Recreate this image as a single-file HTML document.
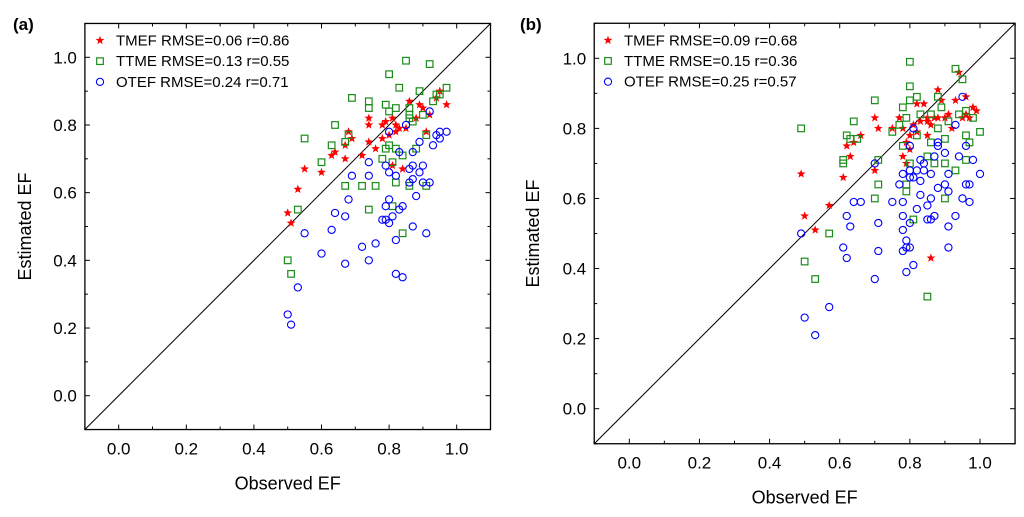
<!DOCTYPE html>
<html><head><meta charset="utf-8"><style>
html,body{margin:0;padding:0;background:#fff}
svg{display:block;font-family:"Liberation Sans",Arial,sans-serif}
</style></head><body>
<svg id="chart" width="1024" height="517" viewBox="0 0 1024 517"></svg>
<script>
const ticks=[0,0.2,0.4,0.6,0.8,1.0];
const tickLabels=["0.0","0.2","0.4","0.6","0.8","1.0"];
const legendA=["TMEF RMSE=0.06 r=0.86","TTME RMSE=0.13 r=0.55","OTEF RMSE=0.24 r=0.71"];
const legendB=["TMEF RMSE=0.09 r=0.68","TTME RMSE=0.15 r=0.36","OTEF RMSE=0.25 r=0.57"];
const aTMEF=[[0.50,0.54],[0.51,0.51],[0.53,0.61],[0.55,0.67],[0.60,0.66],[0.63,0.71],[0.64,0.72],[0.67,0.74],[0.67,0.70],[0.68,0.78],[0.69,0.76],[0.72,0.71],[0.74,0.80],[0.74,0.82],[0.74,0.75],[0.76,0.73],[0.78,0.76],[0.78,0.80],[0.79,0.81],[0.80,0.77],[0.81,0.68],[0.82,0.78],[0.82,0.80],[0.83,0.79],[0.84,0.67],[0.86,0.87],[0.88,0.82],[0.89,0.86],[0.90,0.85],[0.91,0.78],[0.92,0.83],[0.94,0.88],[0.95,0.90],[0.97,0.86],[0.81,0.82],[0.85,0.79]];
const aTTME=[[0.50,0.40],[0.51,0.36],[0.53,0.55],[0.55,0.76],[0.60,0.69],[0.63,0.74],[0.64,0.80],[0.67,0.75],[0.68,0.77],[0.67,0.62],[0.69,0.88],[0.72,0.62],[0.74,0.87],[0.74,0.85],[0.74,0.55],[0.76,0.62],[0.78,0.70],[0.79,0.86],[0.79,0.73],[0.80,0.74],[0.80,0.84],[0.80,0.95],[0.81,0.56],[0.81,0.69],[0.82,0.85],[0.82,0.73],[0.82,0.63],[0.83,0.91],[0.84,0.71],[0.84,0.48],[0.85,0.99],[0.86,0.82],[0.86,0.83],[0.86,0.85],[0.86,0.62],[0.87,0.81],[0.88,0.73],[0.89,0.90],[0.90,0.83],[0.91,0.62],[0.91,0.77],[0.92,0.98],[0.93,0.87],[0.94,0.89],[0.95,0.89],[0.97,0.91]];
const aOTEF=[[0.50,0.24],[0.51,0.21],[0.53,0.32],[0.55,0.48],[0.60,0.42],[0.63,0.49],[0.64,0.54],[0.67,0.53],[0.67,0.39],[0.68,0.58],[0.69,0.65],[0.72,0.44],[0.74,0.69],[0.74,0.65],[0.74,0.40],[0.76,0.45],[0.78,0.52],[0.79,0.52],[0.79,0.68],[0.79,0.56],[0.80,0.58],[0.80,0.78],[0.80,0.66],[0.80,0.51],[0.81,0.53],[0.82,0.65],[0.82,0.36],[0.82,0.46],[0.83,0.55],[0.83,0.72],[0.84,0.35],[0.84,0.56],[0.85,0.80],[0.86,0.67],[0.86,0.63],[0.87,0.72],[0.87,0.68],[0.87,0.50],[0.87,0.64],[0.88,0.59],[0.89,0.75],[0.89,0.66],[0.90,0.63],[0.90,0.68],[0.91,0.48],[0.92,0.63],[0.92,0.84],[0.93,0.74],[0.94,0.77],[0.95,0.76],[0.95,0.78],[0.97,0.78]];
const bTMEF=[[0.49,0.67],[0.50,0.55],[0.53,0.51],[0.57,0.58],[0.61,0.66],[0.62,0.75],[0.63,0.72],[0.64,0.76],[0.66,0.78],[0.70,0.83],[0.70,0.68],[0.71,0.80],[0.75,0.80],[0.77,0.83],[0.78,0.80],[0.78,0.72],[0.79,0.70],[0.79,0.76],[0.80,0.74],[0.80,0.78],[0.81,0.81],[0.82,0.87],[0.82,0.79],[0.83,0.82],[0.84,0.87],[0.85,0.83],[0.85,0.78],[0.86,0.81],[0.86,0.43],[0.87,0.83],[0.88,0.91],[0.88,0.83],[0.89,0.88],[0.90,0.83],[0.91,0.84],[0.92,0.80],[0.93,0.88],[0.94,0.96],[0.95,0.83],[0.96,0.89],[0.96,0.84],[0.97,0.83],[0.98,0.86],[0.99,0.85],[0.85,0.82]];
const bTTME=[[0.49,0.80],[0.50,0.42],[0.53,0.37],[0.57,0.50],[0.61,0.70],[0.61,0.71],[0.62,0.78],[0.63,0.77],[0.64,0.82],[0.65,0.77],[0.70,0.88],[0.70,0.60],[0.71,0.71],[0.71,0.64],[0.75,0.79],[0.77,0.81],[0.78,0.86],[0.78,0.75],[0.79,0.62],[0.79,0.64],[0.79,0.83],[0.80,0.88],[0.80,0.92],[0.80,0.99],[0.80,0.70],[0.81,0.54],[0.82,0.89],[0.82,0.78],[0.83,0.84],[0.85,0.72],[0.85,0.32],[0.86,0.76],[0.86,0.84],[0.87,0.70],[0.88,0.80],[0.88,0.89],[0.89,0.86],[0.90,0.77],[0.90,0.70],[0.90,0.60],[0.91,0.82],[0.93,0.68],[0.93,0.97],[0.94,0.84],[0.95,0.94],[0.96,0.85],[0.96,0.78],[0.96,0.71],[0.97,0.76],[0.98,0.83],[1.00,0.79]];
const bOTEF=[[0.49,0.50],[0.50,0.26],[0.53,0.21],[0.57,0.29],[0.61,0.46],[0.62,0.43],[0.62,0.55],[0.63,0.52],[0.64,0.59],[0.66,0.59],[0.70,0.37],[0.70,0.70],[0.71,0.53],[0.71,0.45],[0.75,0.59],[0.77,0.64],[0.78,0.55],[0.78,0.51],[0.78,0.59],[0.78,0.67],[0.78,0.45],[0.79,0.39],[0.79,0.46],[0.79,0.48],[0.80,0.66],[0.80,0.68],[0.80,0.53],[0.80,0.46],[0.80,0.75],[0.81,0.80],[0.81,0.66],[0.81,0.41],[0.82,0.57],[0.82,0.68],[0.83,0.71],[0.83,0.61],[0.83,0.65],[0.84,0.70],[0.84,0.68],[0.85,0.58],[0.85,0.54],[0.86,0.60],[0.86,0.54],[0.86,0.67],[0.87,0.55],[0.87,0.72],[0.88,0.63],[0.88,0.75],[0.88,0.76],[0.90,0.73],[0.90,0.64],[0.91,0.62],[0.91,0.52],[0.91,0.46],[0.91,0.67],[0.93,0.55],[0.93,0.81],[0.94,0.72],[0.95,0.60],[0.95,0.89],[0.96,0.64],[0.96,0.75],[0.97,0.64],[0.97,0.59],[0.98,0.71],[1.00,0.67]];

const NS="http://www.w3.org/2000/svg";
const svg=document.getElementById('chart');
function mk(tag,attrs,parent){const e=document.createElementNS(NS,tag);for(const k in attrs)e.setAttribute(k,attrs[k]);(parent||svg).appendChild(e);return e;}
function starPath(cx,cy,r){let d="";for(let i=0;i<10;i++){const a=-Math.PI/2+i*Math.PI/5;const rr=i%2?r*0.42:r;d+=(i?"L":"M")+(cx+rr*Math.cos(a)).toFixed(2)+","+(cy+rr*Math.sin(a)).toFixed(2);}return d+"Z";}
function marker(g,type,x,y){
  let e;
  if(type==="star"){e=mk('path',{d:starPath(x,y,4.6),fill:'#ff0000'},g);}
  else if(type==="square"){e=mk('rect',{x:x-3.3,y:y-3.3,width:6.6,height:6.6,fill:'none',stroke:'#1a8c1a','stroke-width':1.2},g);}
  else {e=mk('circle',{cx:x,cy:y,r:3.6,fill:'none',stroke:'#0000ff','stroke-width':1.1},g);}
  return e;
}
function panel(P){
  const g=mk('g',{});
  
  
  const sx=v=>P.x0+(v)*(P.x1-P.x0);
  const sy=v=>P.y0-(v)*(P.y0-P.y1);
  const L=sx(-0.1),R=sx(1.1),T=sy(1.1),B=sy(-0.1);
  const d=mk('line',{x1:L,y1:B,x2:R,y2:T,stroke:'#000','stroke-width':1},g);
  
  
  for(let i=-1;i<=11;i++){
    const v=i/10,major=(i%2===0);const len=major?5:3;
    const X=sx(v),Y=sy(v);
    mk('line',{x1:X,y1:B,x2:X,y2:B-len,stroke:'#000','stroke-width':1},g);
    mk('line',{x1:X,y1:T,x2:X,y2:T+len,stroke:'#000','stroke-width':1},g);
    mk('line',{x1:L,y1:Y,x2:L+len,y2:Y,stroke:'#000','stroke-width':1},g);
    mk('line',{x1:R,y1:Y,x2:R-len,y2:Y,stroke:'#000','stroke-width':1},g);
  }
  ticks.forEach((v,i)=>{
    const t=mk('text',{x:sx(v),y:B+25,'text-anchor':'middle','font-size':17},g);t.textContent=tickLabels[i];
    
    
    const u=mk('text',{x:L-8,y:sy(v)+6,'text-anchor':'end','font-size':17},g);u.textContent=tickLabels[i];
    
    
  });
  const fr=mk('rect',{x:L,y:T,width:R-L,height:B-T,fill:'none',stroke:'#000','stroke-width':1.3},g);
  
  
  const xt=mk('text',{x:(L+R)/2,y:B+60,'text-anchor':'middle','font-size':18},g);xt.textContent='Observed EF';
  
  
  const yc=(T+B)/2;
  const yt=mk('text',{x:P.ytx,y:yc,'text-anchor':'middle','font-size':18,transform:`rotate(-90 ${P.ytx} ${yc})`},g);yt.textContent='Estimated EF';
  
  
  const pl=mk('text',{x:P.lx,y:30,'font-size':17,'font-weight':'bold'},g);pl.textContent=P.label;
  
  
  const series=[[P.tmef,'star','tmef'],[P.ttme,'square','ttme'],[P.otef,'circle','otef']];
  series.forEach(s=>{
    const sg=mk('g',{},g);
    
    
    s[0].forEach(p=>{const m=marker(sg,s[1],sx(p[0]),sy(p[1]));
      
      });
  });
  const types=['star','square','circle'];
  P.legend.forEach((txt,i)=>{
    const lg=mk('g',{},g);
    
    
    const ly=T+17+i*20.7;
    marker(lg,types[i],P.legx,ly);
    const t=mk('text',{x:P.legx+16,y:ly+5,'font-size':15},lg);t.textContent=txt;
  });
}
panel({id:'a',label:'(a)',lx:13,x0:118.7,x1:456.7,y0:395.7,y1:57.3,ytx:31,legx:100,tmef:aTMEF,ttme:aTTME,otef:aOTEF,legend:legendA});
panel({id:'b',label:'(b)',lx:520,x0:629.3,x1:980,y0:408.7,y1:58.3,ytx:539,legx:608,tmef:bTMEF,ttme:bTTME,otef:bOTEF,legend:legendB});
</script>
</body></html>
